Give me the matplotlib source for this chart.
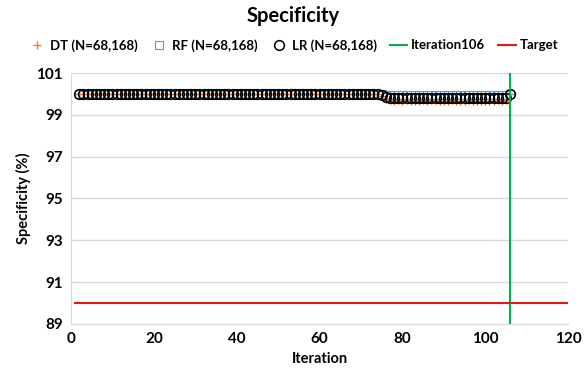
import numpy as np
import matplotlib
matplotlib.use("Agg")
import matplotlib.pyplot as plt

plt.rcParams["font.family"] = ["Lato", "DejaVu Sans"]
plt.rcParams["font.weight"] = "bold"

# iterations 2..106
iters = list(range(2, 107))

# flat part (iter 2..74) then drift after iter 75
dt_tail = [99.92, 99.76, 99.70, 99.68, 99.69, 99.68, 99.70, 99.68, 99.67, 99.68,
           99.69, 99.68, 99.70, 99.69, 99.68, 99.67, 99.68, 99.69, 99.68, 99.67,
           99.68, 99.69, 99.68, 99.67, 99.68, 99.68, 99.67, 99.68, 99.69, 99.68,
           99.70, 99.98]
rf_tail = [99.98, 99.96, 99.96, 99.95, 99.96, 99.96, 99.95, 99.96, 99.96, 99.95,
           99.96, 99.96, 99.95, 99.96, 99.96, 99.95, 99.96, 99.95, 99.96, 99.96,
           99.95, 99.96, 99.96, 99.95, 99.96, 99.96, 99.95, 99.96, 99.96, 99.95,
           99.96, 100.0]
lr_tail = [99.95, 99.84, 99.82, 99.81, 99.82, 99.81, 99.80, 99.81, 99.82, 99.81,
           99.80, 99.81, 99.80, 99.81, 99.82, 99.81, 99.80, 99.79, 99.80, 99.81,
           99.80, 99.79, 99.80, 99.80, 99.79, 99.80, 99.81, 99.80, 99.79, 99.80,
           99.81, 100.0]
flat = [99.99] * (len(iters) - len(dt_tail))
dt_vals = flat + dt_tail
rf_vals = flat + rf_tail
lr_vals = flat + lr_tail

target = 90
iter_mark = 106
x_ticks = [0, 20, 40, 60, 80, 100, 120]
y_ticks = [89, 91, 93, 95, 97, 99, 101]

fig = plt.figure(figsize=(5.87, 3.71), dpi=100)
ax = fig.add_axes([0.121, 0.127, 0.847, 0.676])

ax.plot(iters, dt_vals, ls="none", marker="+", ms=6, mew=1.0, color="#ED7D31",
        label="DT (N=68,168)")
ax.plot(iters, rf_vals, ls="none", marker="s", ms=6, mew=0.8, mfc="none",
        color="#5B9BD5", label="RF (N=68,168)")
ax.plot(iters, lr_vals, ls="none", marker="o", ms=7, mew=1.1, mfc="none",
        color="black", label="LR (N=68,168)")
ax.plot([iter_mark, iter_mark], [89, 101], color="#00B050", lw=1.5, label="Iteration106")
ax.plot([1, 120], [target, target], color="#E31A1C", lw=1.5, label="Target")

ax.set_xlim(0, 120)
ax.set_ylim(89, 101)
ax.set_xticks(x_ticks)
ax.set_yticks(y_ticks)
ax.tick_params(length=0, labelsize=11, pad=6)
for lab in ax.get_xticklabels() + ax.get_yticklabels():
    lab.set_fontweight("bold")
ax.grid(axis="y", color="#D9D9D9", lw=1)
ax.set_axisbelow(True)
for s in ["top", "right"]:
    ax.spines[s].set_visible(False)
for s in ["left", "bottom"]:
    ax.spines[s].set_color("#D9D9D9")

ax.set_xlabel("Iteration", fontsize=10.5, fontweight="bold")
ax.set_ylabel("Specificity (%)", fontsize=10.5, fontweight="bold")
fig.suptitle("Specificity", fontsize=14.5, fontweight="bold", y=0.985)

fig.legend(loc="center", bbox_to_anchor=(0.5, 0.878), ncol=5, frameon=False,
           handlelength=1.3, handletextpad=0.3, columnspacing=1.0,
           prop={"weight": "bold", "size": 9.5})

fig.savefig("out.png", dpi=100)
